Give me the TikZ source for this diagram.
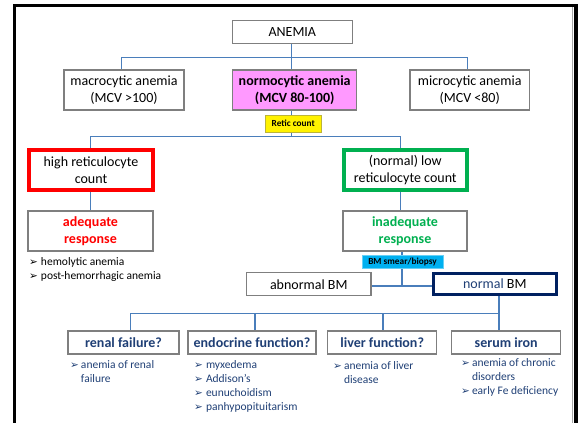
\documentclass[tikz,border=0pt]{standalone}
\usepackage{fontspec}
\setmainfont{Carlito}
\newfontfamily\dejavu{DejaVu Sans}
\usetikzlibrary{backgrounds}
\definecolor{lineblue}{HTML}{4A7EBB}
\definecolor{boxgray}{HTML}{7F7F7F}
\definecolor{pinkfill}{HTML}{FF99FF}
\definecolor{gogreen}{HTML}{00B050}
\definecolor{navybox}{HTML}{002060}
\definecolor{textnavy}{HTML}{1F3F75}
\definecolor{smearcyan}{HTML}{00B0F0}
\newcommand\arrbul{{\dejavu\fontsize{10.5}{14}\selectfont ➢}}
\begin{document}
\begin{tikzpicture}[x=1pt,y=-1pt,
  box/.style={draw=boxgray, line width=1.2pt, fill=white, inner sep=0pt, align=center,
    font=\fontsize{14}{17}\selectfont},
  conn/.style={draw=lineblue, line width=1.2pt},
  tagbox/.style={inner sep=0pt, font=\fontsize{9.3}{10}\bfseries\selectfont},
  blist/.style={anchor=north west, inner sep=0pt, align=left, font=\fontsize{11.5}{14}\selectfont},
  ttl/.style={box, text=textnavy, font=\fontsize{14}{17}\bfseries\selectfont, minimum height=23}
]
\useasboundingbox (0,0) rectangle (578,423);

% frame
\fill[black] (13,4) rectangle (578,7);
\fill[black] (13,4) rectangle (16,423);
\fill[black] (574,4) rectangle (578,423);
\draw[black!35, line width=0.8pt] (572,7) -- (572,423);

% level 0/1
\node[box, minimum width=120, minimum height=22.6] (anemia) at (292.3,32) {ANEMIA};
\node[box, minimum width=120, minimum height=40] (macro) at (124,90) {macrocytic anemia\\(MCV >100)};
\node[box, fill=pinkfill, minimum width=124, minimum height=40, font=\fontsize{14}{17}\bfseries\selectfont] (normo) at (294.7,90) {normocytic anemia\\(MCV 80-100)};
\node[box, minimum width=119.3, minimum height=40] (micro) at (469.7,90) {microcytic anemia\\(MCV <80)};
\node[tagbox, fill=yellow, draw=yellow!70!black, line width=0.5pt, minimum width=56.7, minimum height=17] (retic) at (293.3,123.5) {Retic count};

% level 2
\node[box, draw=red, line width=4pt, minimum width=124, minimum height=40] (high) at (91,170) {high reticulocyte\\count};
\node[box, draw=gogreen, line width=4pt, minimum width=123.3, minimum height=40] (low) at (405.3,170) {(normal) low\\reticulocyte count};
\node[box, text=red, font=\fontsize{14}{17}\bfseries\selectfont, minimum width=125, minimum height=40] (adequate) at (90.5,231) {adequate\\response};
\node[box, text=gogreen, font=\fontsize{14}{17}\bfseries\selectfont, minimum width=124, minimum height=40] (inadequate) at (405,231) {inadequate\\response};
\node[blist] (adlist) at (29,255) {\begin{tabular}{@{}l@{\hspace{3pt}}l@{}}\arrbul & hemolytic anemia\\ \arrbul & post-hemorrhagic anemia\end{tabular}};

\node[tagbox, fill=smearcyan, draw=smearcyan!60, line width=0.5pt, minimum width=81, minimum height=13] (smear) at (402.5,261.5) {BM smear/biopsy};
\node[box, minimum width=124.3, minimum height=23] (abnormal) at (308.8,284.2) {abnormal BM};
\node[box, draw=navybox, line width=3pt, minimum width=123.3, minimum height=21.3] (normal) at (494.8,283.8) {\textcolor{textnavy}{normal} BM};

% bottom level
\node[ttl, minimum width=111] (renal) at (123.5,342.5) {renal failure?};
\node[ttl, minimum width=128] (endo) at (252,342.5) {endocrine function?};
\node[ttl, minimum width=109] (liver) at (382.2,342.5) {liver function?};
\node[ttl, minimum width=109] (serum) at (506.2,342.5) {serum iron};

\node[blist, text=textnavy] (renallist) at (70,358) {\begin{tabular}{@{}l@{\hspace{2pt}}l@{}}\arrbul & anemia of renal\\ & failure\end{tabular}};
\node[blist, text=textnavy] (endolist) at (194,358) {\begin{tabular}{@{}l@{\hspace{3pt}}l@{}}\arrbul & myxedema\\ \arrbul & Addison’s\\ \arrbul & eunuchoidism\\ \arrbul & panhypopituitarism\end{tabular}};
\node[blist, text=textnavy] (liverlist) at (333,359) {\begin{tabular}{@{}l@{\hspace{2pt}}l@{}}\arrbul & anemia of liver\\ & disease\end{tabular}};
\node[blist, text=textnavy] (serumlist) at (461,356.5) {\begin{tabular}{@{}l@{\hspace{2pt}}l@{}}\arrbul & anemia of chronic\\ & disorders\\ \arrbul & early Fe deficiency\end{tabular}};

% connectors
\coordinate (t1) at (291.7,57.3);
\coordinate (t1l) at (121.7,57.3);
\coordinate (t1r) at (467.3,57.3);
\coordinate (t2) at (291.7,136.7);
\coordinate (t2l) at (90.7,136.7);
\coordinate (t2r) at (400.7,136.7);
\coordinate (t3) at (402,286);
\coordinate (t4) at (499,313.3);
\coordinate (t4a) at (130.7,313.3);
\coordinate (t4b) at (255,313.3);
\coordinate (t4c) at (383,313.3);
\begin{scope}[on background layer]
\draw[conn] (anemia.south -| t1) -- (t1 |- normo.north);
\draw[conn] (t1l |- macro.north) -- (t1l) -- (t1r) -- (t1r |- micro.north);
\draw[conn] (normo.south -| t1) -- (t1 |- retic.north);
\draw[conn] (retic.south -| t2) -- (t2);
\draw[conn] (t2l |- high.north) -- (t2l) -- (t2r) -- (t2r |- low.north);
\draw[conn] (high.south -| t2l) -- (t2l |- adequate.north);
\draw[conn] (low.south -| t2r) -- (t2r |- inadequate.north);
\draw[conn] (inadequate.south -| t3) -- (t3 |- smear.north);
\draw[conn] (smear.south -| t3) -- (t3);
\draw[conn] (abnormal.east |- t3) -- (normal.west |- t3);
\draw[conn] (normal.south -| t4) -- (t4) -- (t4a) -- (t4a |- renal.north);
\draw[conn] (t4b) -- (t4b |- endo.north);
\draw[conn] (t4c) -- (t4c |- liver.north);
\draw[conn] (t4) -- (t4 |- serum.north);
\end{scope}
\end{tikzpicture}
\end{document}
